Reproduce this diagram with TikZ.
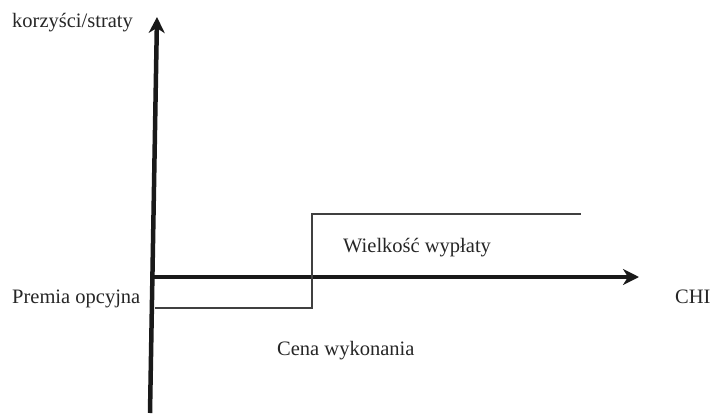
\documentclass[tikz,border=0pt]{standalone}
\usepackage{fontspec}
\setmainfont{Liberation Serif}
\usetikzlibrary{arrows.meta}
\begin{document}
\begin{tikzpicture}[x=1pt,y=-1pt,
  lbl/.style={anchor=base west,inner sep=0pt,font=\fontsize{20.5}{24}\selectfont,text=black!85},
  axis/.style={line width=4.5pt,draw=black!90,-{Stealth[length=16pt,width=16pt,inset=5pt]}},
  pay/.style={line width=1.3pt,draw=black!75}]
\useasboundingbox (0,0) rectangle (713,413);
% axes
\coordinate (vb) at (150,413);
\coordinate (vt) at (157,17);
\coordinate (hl) at (151,277);
\coordinate (hr) at (639,277);
\draw[axis] (vb) -- (vt);
\draw[axis] (hl) -- (hr);
% payoff
\coordinate (p0) at (155,308);
\coordinate (p1) at (312,308);
\coordinate (p2) at (312,214);
\coordinate (p3) at (581,214);
\draw[pay] (p0) -- (p1) -- (p2) -- (p3);
% labels
\node[lbl] (ky) at (12,27) {korzyści/straty};
\node[lbl] (pr) at (12,303) {Premia opcyjna};
\node[lbl] (chi) at (675,303) {CHI};
\node[lbl] (ww) at (343,252) {Wielkość wypłaty};
\node[lbl] (cw) at (277,355) {Cena wykonania};
\end{tikzpicture}
\end{document}
